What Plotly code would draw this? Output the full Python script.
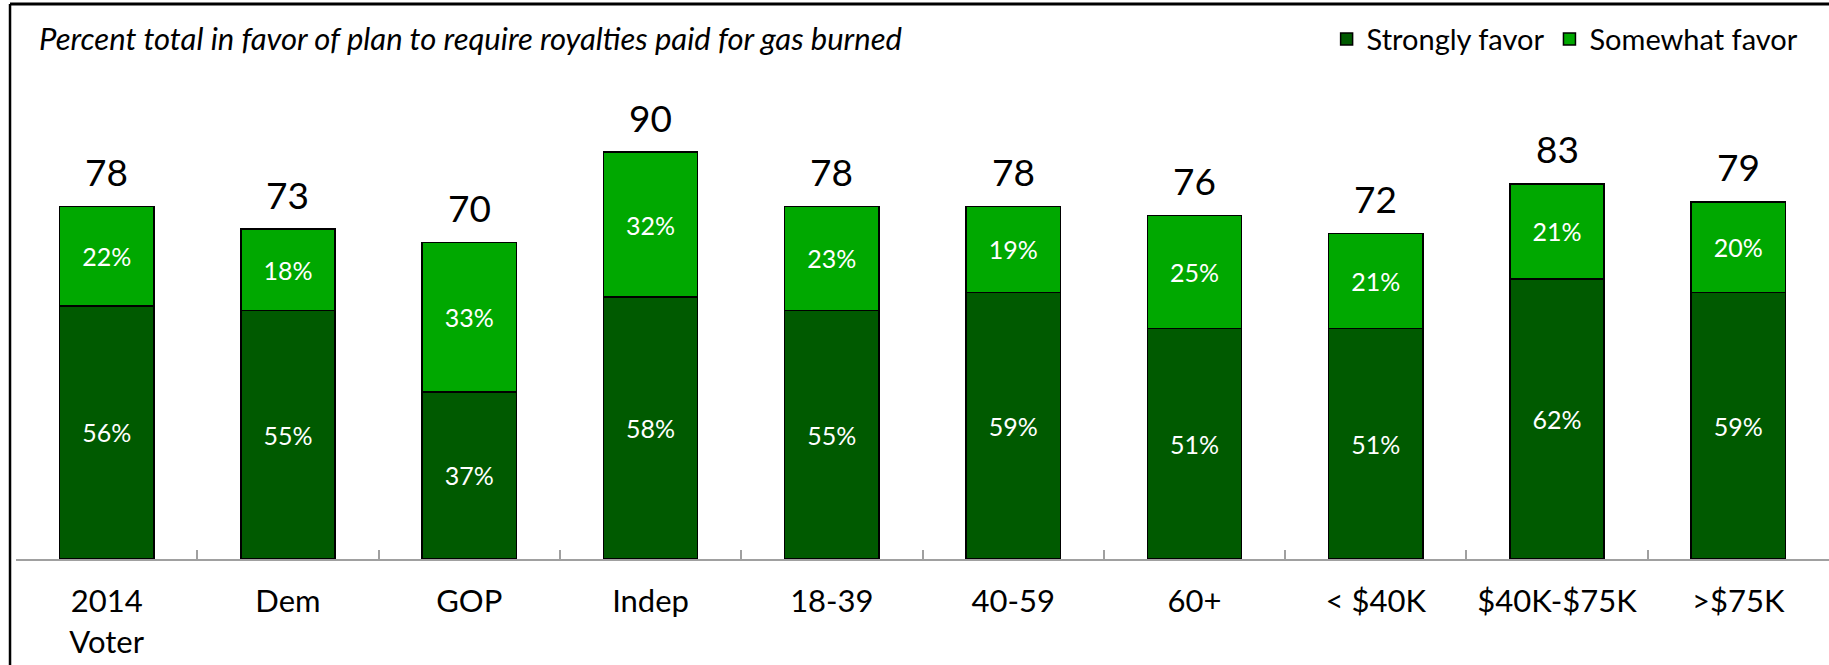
import plotly.graph_objects as go

# data
categories = ['2014<br>Voter', 'Dem', 'GOP', 'Indep', '18-39', '40-59', '60+',
              '< $40K', '$40K-$75K', '>$75K']
strongly = [56, 55, 37, 58, 55, 59, 51, 51, 62, 59]
somewhat = [22, 18, 33, 32, 23, 19, 25, 21, 21, 20]
totals = [78, 73, 70, 90, 78, 78, 76, 72, 83, 79]

title_text = 'Percent total in favor of plan to require royalties paid for gas burned'

FONT = 'Lato'
dark_green = '#005a00'
light_green = '#00a800'

fig = go.Figure()

fig.add_trace(go.Bar(
    x=categories, y=strongly, name='Strongly favor',
    marker=dict(color=dark_green, line=dict(color='black', width=1.5)),
    text=[f'{v}%' for v in strongly], textposition='inside',
    insidetextanchor='middle', textangle=0,
    textfont=dict(color='white', size=25, family=FONT),
))
fig.add_trace(go.Bar(
    x=categories, y=somewhat, name='Somewhat favor',
    marker=dict(color=light_green, line=dict(color='black', width=1.5)),
    text=[f'{v}%' for v in somewhat], textposition='inside',
    insidetextanchor='middle', textangle=0,
    textfont=dict(color='white', size=25, family=FONT),
))

# totals above each stack
for cat, tot in zip(categories, totals):
    fig.add_annotation(x=cat, y=tot, text=str(tot), showarrow=False,
                       yshift=35, font=dict(size=37, color='black', family=FONT))

# chart title (inside the frame, top left)
fig.add_annotation(xref='paper', yref='paper', x=0.0116, y=1.153,
                   xanchor='left', yanchor='middle', showarrow=False,
                   text='<i>' + title_text + '</i>',
                   font=dict(size=31, color='black', family=FONT))

# frame lines (top and left)
fig.add_shape(type='line', xref='paper', yref='paper', x0=-0.0033, x1=1.01,
              y0=1.228, y1=1.228, line=dict(color='black', width=3))
fig.add_shape(type='line', xref='paper', yref='paper', x0=-0.0033, x1=-0.0033,
              y0=1.228, y1=-0.25, line=dict(color='black', width=2.5))

fig.update_layout(
    barmode='stack', bargap=0.48,
    width=1829, height=665,
    margin=dict(l=16, r=0, t=107, b=106),
    plot_bgcolor='white', paper_bgcolor='white',
    font=dict(family=FONT, color='black'),
    showlegend=True,
    legend=dict(orientation='h', x=0.986, xanchor='right', y=1.15, yanchor='middle',
                font=dict(size=29, family=FONT), traceorder='normal',
                itemwidth=30, bgcolor='rgba(0,0,0,0)'),
)
fig.update_xaxes(showline=True, linecolor='#a0a0a0', linewidth=2,
                 ticks='inside', tickson='boundaries', ticklen=9,
                 tickcolor='#a0a0a0', tickwidth=2,
                 tickfont=dict(size=31, family=FONT, color='black'),
                 ticklabelstandoff=14, showgrid=False)
fig.update_yaxes(range=[0, 100], visible=False)

# page body has a default 8px margin; drop it so the figure fills the window
fig.write_html('out.html', config={'displayModeBar': False},
               post_script="document.body.style.margin='0';")
